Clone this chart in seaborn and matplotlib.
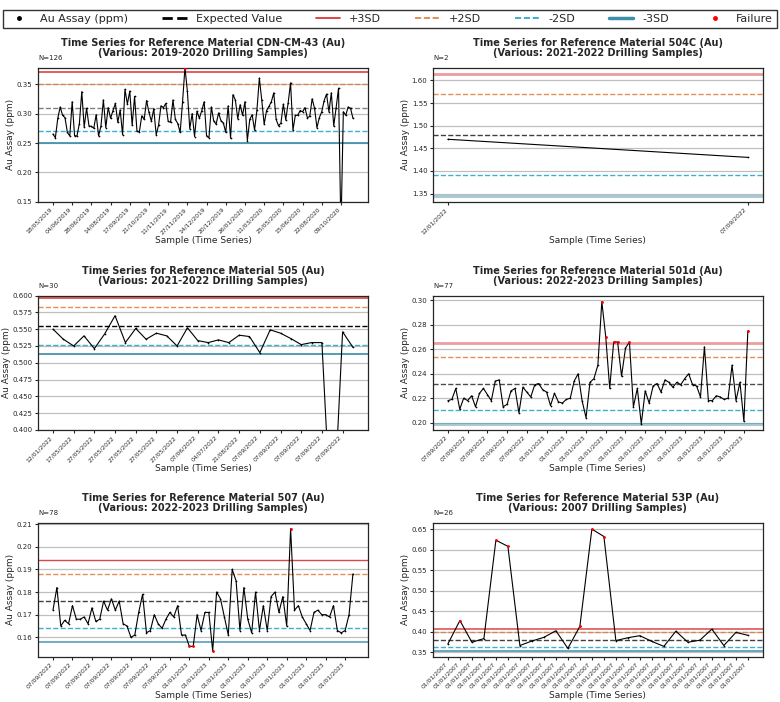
import matplotlib
matplotlib.use("Agg")
import matplotlib.pyplot as plt
from matplotlib.lines import Line2D
import numpy as np
import pandas as pd
import seaborn as sns

sns.set_style("ticks")
plt.rcParams['font.family'] = ['DejaVu Sans']

# --- Datos por material de referencia ---
names = ["CDN-CM-43", "504C", "505", "501d", "507", "53P"]
periods = ["2019-2020", "2021-2022", "2021-2022", "2022-2023", "2022-2023", "2007"]

cdn_cm_43 = [0.265, 0.259, 0.292, 0.311, 0.297, 0.293, 0.268, 0.262, 0.320, 0.262,
             0.262, 0.283, 0.337, 0.277, 0.309, 0.279, 0.278, 0.275, 0.298, 0.262,
             0.279, 0.323, 0.276, 0.310, 0.292, 0.305, 0.317, 0.285, 0.306, 0.264,
             0.341, 0.316, 0.338, 0.280, 0.329, 0.270, 0.269, 0.296, 0.290, 0.322,
             0.302, 0.287, 0.308, 0.264, 0.280, 0.313, 0.310, 0.317, 0.287, 0.285,
             0.323, 0.290, 0.283, 0.268, 0.320, 0.378, 0.338, 0.274, 0.300, 0.261,
             0.304, 0.292, 0.305, 0.320, 0.262, 0.259, 0.311, 0.287, 0.282, 0.301,
             0.288, 0.284, 0.268, 0.313, 0.258, 0.332, 0.323, 0.291, 0.315, 0.297,
             0.320, 0.254, 0.290, 0.298, 0.272, 0.306, 0.360, 0.323, 0.282, 0.305,
             0.312, 0.320, 0.335, 0.290, 0.279, 0.284, 0.316, 0.289, 0.318, 0.352,
             0.272, 0.297, 0.297, 0.305, 0.303, 0.310, 0.293, 0.295, 0.325, 0.309,
             0.276, 0.293, 0.303, 0.322, 0.333, 0.303, 0.335, 0.279, 0.310, 0.343,
             0.100, 0.303, 0.297, 0.311, 0.309, 0.292]
m504c = [1.47, 1.43]
m505 = [0.550, 0.535, 0.525, 0.540, 0.521, 0.543, 0.570, 0.530, 0.551, 0.535,
        0.544, 0.540, 0.525, 0.552, 0.533, 0.530, 0.534, 0.530, 0.541, 0.539,
        0.515, 0.549, 0.544, 0.536, 0.527, 0.530, 0.530, 0.230, 0.546, 0.523]
m501d = [0.218, 0.219, 0.228, 0.211, 0.220, 0.218, 0.222, 0.213, 0.224, 0.228,
         0.223, 0.218, 0.234, 0.235, 0.213, 0.215, 0.226, 0.228, 0.208, 0.229,
         0.225, 0.221, 0.231, 0.232, 0.227, 0.225, 0.214, 0.224, 0.217, 0.216,
         0.219, 0.220, 0.234, 0.240, 0.218, 0.204, 0.233, 0.236, 0.247, 0.299,
         0.270, 0.228, 0.266, 0.266, 0.238, 0.261, 0.266, 0.213, 0.228, 0.199,
         0.226, 0.216, 0.230, 0.232, 0.225, 0.235, 0.233, 0.229, 0.233, 0.231,
         0.236, 0.240, 0.231, 0.230, 0.221, 0.262, 0.218, 0.218, 0.222, 0.221,
         0.219, 0.220, 0.247, 0.218, 0.233, 0.201, 0.275]
m507 = [0.172, 0.182, 0.165, 0.1675, 0.166, 0.174, 0.168, 0.168, 0.169, 0.166,
        0.173, 0.167, 0.168, 0.176, 0.172, 0.177, 0.172, 0.176, 0.166, 0.165,
        0.160, 0.161, 0.171, 0.179, 0.162, 0.163, 0.170, 0.166, 0.164, 0.168,
        0.171, 0.169, 0.174, 0.161, 0.161, 0.156, 0.156, 0.170, 0.163, 0.171,
        0.171, 0.154, 0.180, 0.177, 0.169, 0.161, 0.190, 0.185, 0.163, 0.182,
        0.168, 0.162, 0.180, 0.163, 0.174, 0.163, 0.178, 0.180, 0.171, 0.178,
        0.165, 0.208, 0.172, 0.174, 0.169, 0.166, 0.163, 0.171, 0.172, 0.170,
        0.170, 0.169, 0.174, 0.163, 0.162, 0.163, 0.170, 0.188]
m53p = [0.370, 0.427, 0.374, 0.383, 0.623, 0.608, 0.366, 0.377, 0.386, 0.402,
        0.359, 0.413, 0.650, 0.632, 0.378, 0.385, 0.390, 0.376, 0.364, 0.401,
        0.374, 0.379, 0.406, 0.366, 0.398, 0.391]
series = [cdn_cm_43, m504c, m505, m501d, m507, m53p]

# Valor esperado y límites de control (+3SD, +2SD, -2SD, -3SD)
expected = [0.310, 1.480, 0.555, 0.232, 0.176, 0.380]
plus3 = [0.370, 1.615, 0.597, 0.265, 0.194, 0.407]
plus2 = [0.350, 1.570, 0.583, 0.254, 0.188, 0.398]
minus2 = [0.270, 1.390, 0.527, 0.210, 0.164, 0.362]
minus3 = [0.250, 1.345, 0.513, 0.199, 0.158, 0.353]

# Etiquetas del eje x (fechas de muestra)
labels_cdn = ["18/05/2019", "04/06/2019", "28/06/2019", "14/08/2019", "17/09/2019",
              "21/10/2019", "11/11/2019", "27/11/2019", "14/12/2019", "20/12/2019",
              "26/01/2020", "11/03/2020", "25/05/2020", "15/06/2020", "22/08/2020",
              "09/10/2020"]
labels_504c = ["12/01/2022", "07/09/2022"]
labels_505 = ["12/01/2022", "17/05/2022"] + ["27/05/2022"] * 5 + \
             ["07/06/2022", "04/07/2022", "21/08/2022"] + ["07/09/2022"] * 5
labels_501d = ["07/09/2022"] * 5 + ["01/01/2023"] * 11
labels_507 = ["07/09/2022"] * 7 + ["01/01/2023"] * 9
labels_53p = ["01/01/2007"] * 26
tick_labels = [labels_cdn, labels_504c, labels_505, labels_501d, labels_507, labels_53p]
tick_step = [8, 1, 2, 5, 5, 1]

ylims = [(0.15, 0.378), (1.3315, 1.6285), (0.400, 0.600),
         (0.194, 0.304), (0.1513, 0.2107), (0.338, 0.666)]

c_plus3 = '#d62728'
c_plus2 = '#e07b39'
c_minus2 = '#1ca3c4'
c_minus3 = '#3d8ea8'

# intensidad de las líneas de control por panel
lim_alpha = [0.95, 0.45, 0.95, 0.45, 0.85, 0.85]
lim_lw = [1.1, 2.0, 1.1, 2.0, 1.0, 1.1]
exp_alpha = [0.5, 0.75, 1.0, 0.7, 0.75, 0.75]

fig = plt.figure(figsize=(7.8, 7.02), dpi=100)

col_left = [0.0487, 0.555]
row_bottom = [0.7123, 0.3875, 0.0641]
w, h = 0.423, 0.1915

for k in range(6):
    r, c = divmod(k, 2)
    ax = fig.add_axes([col_left[c], row_bottom[r], w, h])
    vals = series[k]
    df = pd.DataFrame({"idx": np.arange(len(vals)), "val": vals})

    ax.grid(axis='y', color='grey', alpha=0.5, linewidth=0.9)
    ax.set_axisbelow(True)

    ax.axhline(plus3[k], color=c_plus3, lw=lim_lw[k], alpha=lim_alpha[k])
    ax.axhline(plus2[k], color=c_plus2, lw=1.0, ls='--', alpha=0.85)
    ax.axhline(expected[k], color='black', lw=1.0, ls='--', alpha=exp_alpha[k])
    ax.axhline(minus2[k], color=c_minus2, lw=1.0, ls='--', alpha=0.85)
    ax.axhline(minus3[k], color=c_minus3, lw=lim_lw[k] + 0.2, alpha=lim_alpha[k])

    sns.lineplot(data=df, x="idx", y="val", ax=ax, color='black', lw=0.8,
                 marker='.', markersize=2.5, markeredgewidth=0, markeredgecolor='black')
    fail = df[(df["val"] > plus3[k]) | (df["val"] < minus3[k])]
    sns.scatterplot(data=fail, x="idx", y="val", ax=ax, color='red', s=4,
                    linewidth=0, zorder=5)

    ax.set_ylim(*ylims[k])
    ticks = np.arange(0, len(vals), tick_step[k])[:len(tick_labels[k])]
    ax.set_xticks(ticks)
    ax.set_xticklabels(tick_labels[k], rotation=45, ha='right', fontsize=4.3)
    ax.tick_params(axis='y', labelsize=5, length=2.5, pad=1.5)
    ax.tick_params(axis='x', length=2.5, pad=1)

    ax.set_title(f"Time Series for Reference Material {names[k]} (Au)\n"
                 f"(Various: {periods[k]} Drilling Samples)",
                 fontsize=7, fontweight='bold', pad=8, linespacing=1.1)
    ax.text(0.0, 1.05, f"N={len(vals)}", transform=ax.transAxes,
            fontsize=5, va='bottom', ha='left')
    ax.set_xlabel("Sample (Time Series)", fontsize=6.5, labelpad=1)
    ax.set_ylabel("Au Assay (ppm)", fontsize=6.5, labelpad=1)
    for s in ax.spines.values():
        s.set_linewidth(0.9)

handles = [
    Line2D([], [], color='black', marker='.', ls='none', markersize=5),
    Line2D([], [], color='black', ls='--', lw=2),
    Line2D([], [], color=c_plus3, lw=1.2),
    Line2D([], [], color=c_plus2, lw=1.2, ls='--'),
    Line2D([], [], color=c_minus2, lw=1.2, ls='--'),
    Line2D([], [], color=c_minus3, lw=2.5),
    Line2D([], [], color='red', marker='.', ls='none', markersize=5),
]
leg_labels = ["Au Assay (ppm)", "Expected Value", "+3SD", "+2SD", "-2SD", "-3SD", "Failure"]
fig.legend(handles, leg_labels, loc='lower left', ncol=7, mode='expand',
           bbox_to_anchor=(0.004, 0.960, 0.992, 0.036), fontsize=8,
           frameon=True, fancybox=False, edgecolor='black', borderaxespad=0,
           handlelength=2.2, borderpad=0.35)

fig.savefig("out.png", dpi=100)
